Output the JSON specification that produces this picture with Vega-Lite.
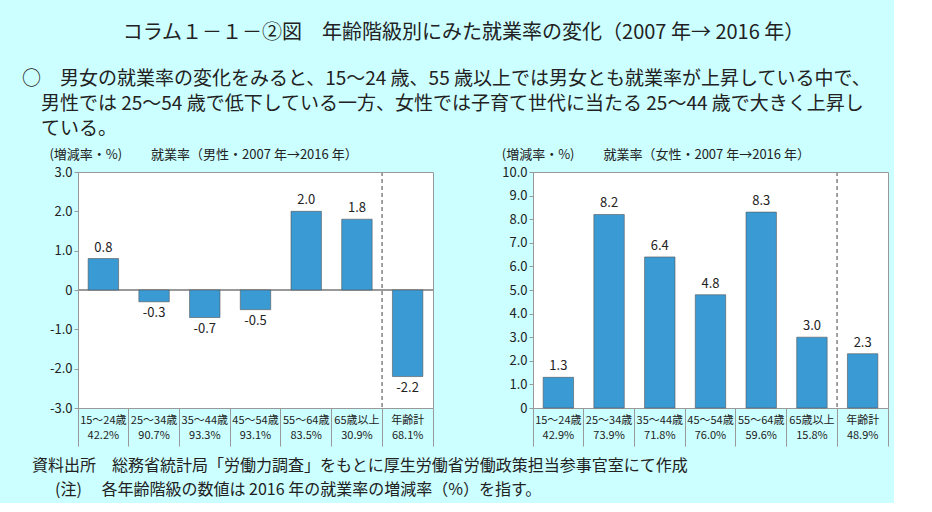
{
  "$schema": "https://vega.github.io/schema/vega-lite/v6.json",
  "background": "#ccffff",
  "padding": {"left": 21, "top": 22, "right": 5, "bottom": 5},
  "datasets": {
    "male": [
      {"cat": "15～24歳|42.2%", "change": 0.8},
      {"cat": "25～34歳|90.7%", "change": -0.3},
      {"cat": "35～44歳|93.3%", "change": -0.7},
      {"cat": "45～54歳|93.1%", "change": -0.5},
      {"cat": "55～64歳|83.5%", "change": 2.0},
      {"cat": "65歳以上|30.9%", "change": 1.8},
      {"cat": "年齢計|68.1%", "change": -2.2}
    ],
    "female": [
      {"cat": "15～24歳|42.9%", "change": 1.3},
      {"cat": "25～34歳|73.9%", "change": 8.2},
      {"cat": "35～44歳|71.8%", "change": 6.4},
      {"cat": "45～54歳|76.0%", "change": 4.8},
      {"cat": "55～64歳|59.6%", "change": 8.3},
      {"cat": "65歳以上|15.8%", "change": 3.0},
      {"cat": "年齢計|48.9%", "change": 2.3}
    ]
  },
  "title": {
    "text": "コラム１－１－②図　年齢階級別にみた就業率の変化（2007 年→ 2016 年）",
    "anchor": "middle",
    "fontSize": 20,
    "offset": 27,
    "dx": 8
  },
  "vconcat": [
    {
      "title": {
        "text": [
          "○　男女の就業率の変化をみると、15～24 歳、55 歳以上では男女とも就業率が上昇している中で、",
          "\u200b\u3000男性では 25～54 歳で低下している一方、女性では子育て世代に当たる 25～44 歳で大きく上昇し",
          "\u200b\u3000ている。"
        ],
        "anchor": "start",
        "fontSize": 19,
        "lineHeight": 25,
        "dx": -10,
        "offset": 10
      },
      "vconcat": [
        {
          "title": {
            "text": [
              "資料出所　総務省統計局「労働力調査」をもとに厚生労働省労働政策担当参事官室にて作成",
              "\u200b\u3000\u00a0\u00a0(注)　 各年齢階級の数値は 2016 年の就業率の増減率（%）を指す。"
            ],
            "orient": "bottom",
            "anchor": "start",
            "fontSize": 16,
            "lineHeight": 24,
            "dx": -17,
            "offset": 11
          },
          "spacing": 67,
          "hconcat": [
            {
              "width": 355,
              "height": 236,
              "title": {"text": "(増減率・%)　　 就業率（男性・2007 年→2016 年）", "anchor": "start", "frame": "bounds", "fontSize": 13, "offset": 4},
              "data": {"name": "male"},
              "layer": [
                {
                  "mark": {"type": "rule", "color": "#999999"},
                  "encoding": {"y": {"datum": 0, "type": "quantitative"}}
                },
                {
                  "mark": {"type": "rule", "color": "#999999", "strokeDash": [4, 3]},
                  "encoding": {"x": {"datum": "年齢計|68.1%", "type": "nominal", "bandPosition": 0}}
                },
                {
                  "mark": {"type": "bar", "fill": "#3a9bd4", "stroke": "#555555", "strokeWidth": 0.6, "width": {"band": 0.6}},
                  "encoding": {
                    "x": {
                      "field": "cat", "type": "nominal",
                      "scale": {"domain": ["15～24歳|42.2%", "25～34歳|90.7%", "35～44歳|93.3%", "45～54歳|93.1%", "55～64歳|83.5%", "65歳以上|30.9%", "年齢計|68.1%"], "paddingInner": 0, "paddingOuter": 0},
                      "axis": {"title": null, "labelExpr": "isValid(datum.value) ? split(datum.value, '|') : ''", "labelAngle": 0, "labelAlign": "center", "bandPosition": 1, "tickExtra": true, "labelOffset": 0, "tickSize": 38, "labelPadding": -32, "domain": false, "labelFontSize": 11, "labelLineHeight": 15, "labelBaseline": "top", "labelOverlap": false, "labelBound": false, "labelFlush": false}
                    },
                    "y": {
                      "field": "change", "type": "quantitative",
                      "scale": {"domain": [-3, 3], "nice": false},
                      "axis": {"title": null, "values": [-3, -2, -1, 0, 1, 2, 3], "tickCount": 20, "labelExpr": "datum.value == 0 ? '0' : format(datum.value, '.1f')", "tickSize": 4, "labelFontSize": 13, "labelOverlap": false}
                    }
                  }
                },
                {
                  "transform": [{"filter": "datum.change >= 0"}],
                  "mark": {"type": "text", "baseline": "bottom", "dy": -4, "fontSize": 13, "color": "#222222"},
                  "encoding": {
                    "x": {"field": "cat", "type": "nominal"},
                    "y": {"field": "change", "type": "quantitative"},
                    "text": {"field": "change", "type": "quantitative", "format": ".1f"}
                  }
                },
                {
                  "transform": [{"filter": "datum.change < 0"}],
                  "mark": {"type": "text", "baseline": "top", "dy": 5, "fontSize": 13, "color": "#222222"},
                  "encoding": {
                    "x": {"field": "cat", "type": "nominal"},
                    "y": {"field": "change", "type": "quantitative"},
                    "text": {"field": "change", "type": "quantitative", "format": ".1f"}
                  }
                }
              ]
            },
            {
              "width": 355,
              "height": 236,
              "title": {"text": "(増減率・%)　　 就業率（女性・2007 年→2016 年）", "anchor": "start", "frame": "bounds", "fontSize": 13, "offset": 4},
              "data": {"name": "female"},
              "layer": [
                {
                  "mark": {"type": "rule", "color": "#999999", "strokeDash": [4, 3]},
                  "encoding": {"x": {"datum": "年齢計|48.9%", "type": "nominal", "bandPosition": 0}}
                },
                {
                  "mark": {"type": "bar", "fill": "#3a9bd4", "stroke": "#555555", "strokeWidth": 0.6, "width": {"band": 0.6}},
                  "encoding": {
                    "x": {
                      "field": "cat", "type": "nominal",
                      "scale": {"domain": ["15～24歳|42.9%", "25～34歳|73.9%", "35～44歳|71.8%", "45～54歳|76.0%", "55～64歳|59.6%", "65歳以上|15.8%", "年齢計|48.9%"], "paddingInner": 0, "paddingOuter": 0},
                      "axis": {"title": null, "labelExpr": "isValid(datum.value) ? split(datum.value, '|') : ''", "labelAngle": 0, "labelAlign": "center", "bandPosition": 1, "tickExtra": true, "labelOffset": 0, "tickSize": 38, "labelPadding": -32, "domain": false, "labelFontSize": 11, "labelLineHeight": 15, "labelBaseline": "top", "labelOverlap": false, "labelBound": false, "labelFlush": false}
                    },
                    "y": {
                      "field": "change", "type": "quantitative",
                      "scale": {"domain": [0, 10], "nice": false},
                      "axis": {"title": null, "values": [0, 1, 2, 3, 4, 5, 6, 7, 8, 9, 10], "tickCount": 20, "labelExpr": "datum.value == 0 ? '0' : format(datum.value, '.1f')", "tickSize": 4, "labelFontSize": 13, "labelOverlap": false}
                    }
                  }
                },
                {
                  "mark": {"type": "text", "baseline": "bottom", "dy": -4, "fontSize": 13, "color": "#222222"},
                  "encoding": {
                    "x": {"field": "cat", "type": "nominal"},
                    "y": {"field": "change", "type": "quantitative"},
                    "text": {"field": "change", "type": "quantitative", "format": ".1f"}
                  }
                }
              ]
            }
          ]
        }
      ]
    }
  ],
  "config": {
    "font": "Noto Sans CJK JP",
    "locale": {"number": {"decimal": ".", "thousands": ",", "grouping": [3], "currency": ["", ""], "minus": "-"}},
    "view": {"fill": "white", "stroke": "#999999", "strokeWidth": 1},
    "axis": {"labelColor": "#222222", "domainColor": "#999999", "tickColor": "#999999", "grid": false},
    "title": {"fontWeight": "normal", "color": "#222222", "subtitleColor": "#222222"}
  }
}
